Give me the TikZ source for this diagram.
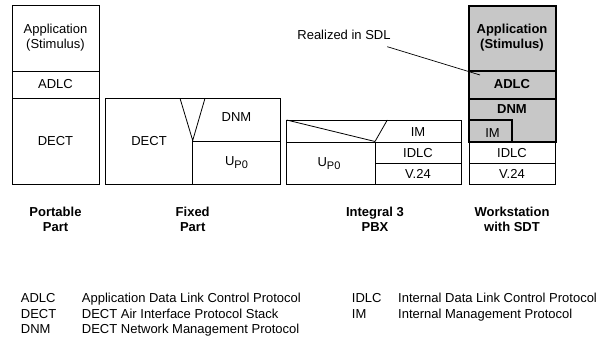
\documentclass[tikz,border=0pt]{standalone}
\usepackage{fontspec}
\setmainfont{Liberation Sans}
\begin{document}
\begin{tikzpicture}[x=1pt,y=-1pt,
  thin line/.style={draw=black,line width=0.8pt},
  thick line/.style={draw=black,line width=1.8pt},
  layer fill/.style={fill=black!22},
  lbl/.style={inner sep=0pt,font=\fontsize{13}{15}\selectfont,align=center},
  blbl/.style={lbl,font=\fontsize{13}{15}\selectfont\bfseries},
  leg/.style={inner sep=0pt,anchor=base west,font=\fontsize{13}{15}\selectfont}]
\useasboundingbox (0,0) rectangle (600,339);
\newcommand{\upzero}{U\raisebox{-0.45ex}{\fontsize{11}{12}\selectfont P0}}

% Portable Part stack
\draw[thin line] (12,5.7) rectangle (99,184.3);
\draw[thin line] (12,71.3) -- (99,71.3);
\draw[thin line] (12,98.3) -- (99,98.3);
\node[lbl] (pp-app) at (55.5,37.5) {Application\\(Stimulus)};
\node[lbl] (pp-adlc) at (55.5,84.5) {ADLC};
\node[lbl] (pp-dect) at (55.5,141) {DECT};

% Fixed Part stack
\draw[thin line] (105.7,98.3) rectangle (280,184.3);
\draw[thin line] (180,98.3) -- (192.7,140.5) -- (205,98.3);
\draw[thin line] (192.7,140.5) -- (192.7,184.3);
\draw[thin line] (192.7,141.7) -- (280,141.7);
\node[lbl] (fp-dect) at (149,141) {DECT};
\node[lbl] (fp-dnm) at (236.5,117) {DNM};
\node[lbl] (fp-up) at (236.5,163) {\upzero};

% Integral 3 PBX stack
\draw[thin line] (286.7,120) rectangle (461.7,184.3);
\draw[thin line] (286.7,120) -- (375,141.5) -- (387.3,120);
\draw[thin line] (286.7,142.3) -- (461.7,142.3);
\draw[thin line] (375,142.3) -- (375,184.3);
\draw[thin line] (375,163.3) -- (461.7,163.3);
\node[lbl] (pbx-up) at (329,163.5) {\upzero};
\node[lbl] (pbx-im) at (418,132.5) {IM};
\node[lbl] (pbx-idlc) at (418,153) {IDLC};
\node[lbl] (pbx-v24) at (418,174) {V.24};

% Workstation stack; the grey layers are realized in SDL
\fill[layer fill] (469,6) rectangle (555.7,141.7);
\draw[thin line] (469,141.7) rectangle (555.7,184.3);
\draw[thin line] (469,163.3) -- (555.7,163.3);
\draw[thick line] (469,6) rectangle (555.7,141.7);
\draw[thick line] (469,71.3) -- (555.7,71.3);
\draw[thick line] (469,98.7) -- (555.7,98.7);
\draw[thick line] (469,120.3) -- (511.7,120.3) -- (511.7,141.7);
\node[blbl] (ws-app) at (512,37.5) {Application\\(Stimulus)};
\node[blbl] (ws-adlc) at (512,84.5) {ADLC};
\node[blbl] (ws-dnm) at (512,109) {DNM};
\node[lbl] (ws-im) at (492.5,133.5) {IM};
\node[lbl] (ws-idlc) at (512,153) {IDLC};
\node[lbl] (ws-v24) at (512,174) {V.24};

% Annotation
\node[lbl] (sdl) at (344,35) {Realized in SDL};
\coordinate (sdl-end) at (480,75);
\draw[line width=0.7pt] (387.3,46.7) -- (sdl-end);

% Captions under the stacks
\node[blbl] (cap-pp) at (55.5,219) {Portable\\Part};
\node[blbl] (cap-fp) at (192.7,219) {Fixed\\Part};
\node[blbl] (cap-pbx) at (375,219) {Integral 3\\PBX};
\node[blbl] (cap-ws) at (512,219) {Workstation\\with SDT};

% Legend
\node[leg] (k1) at (20.7,302.5) {ADLC};
\node[leg] (d1) at (81.7,302.5) {Application Data Link Control Protocol};
\node[leg] (k2) at (20.7,318) {DECT};
\node[leg] (d2) at (81.7,318) {DECT Air Interface Protocol Stack};
\node[leg] (k3) at (20.7,333.5) {DNM};
\node[leg] (d3) at (81.7,333.5) {DECT Network Management Protocol};
\node[leg] (k4) at (351.7,302.5) {IDLC};
\node[leg] (d4) at (398,302.5) {Internal Data Link Control Protocol};
\node[leg] (k5) at (351.7,318) {IM};
\node[leg] (d5) at (398,318) {Internal Management Protocol};
\end{tikzpicture}
\end{document}
